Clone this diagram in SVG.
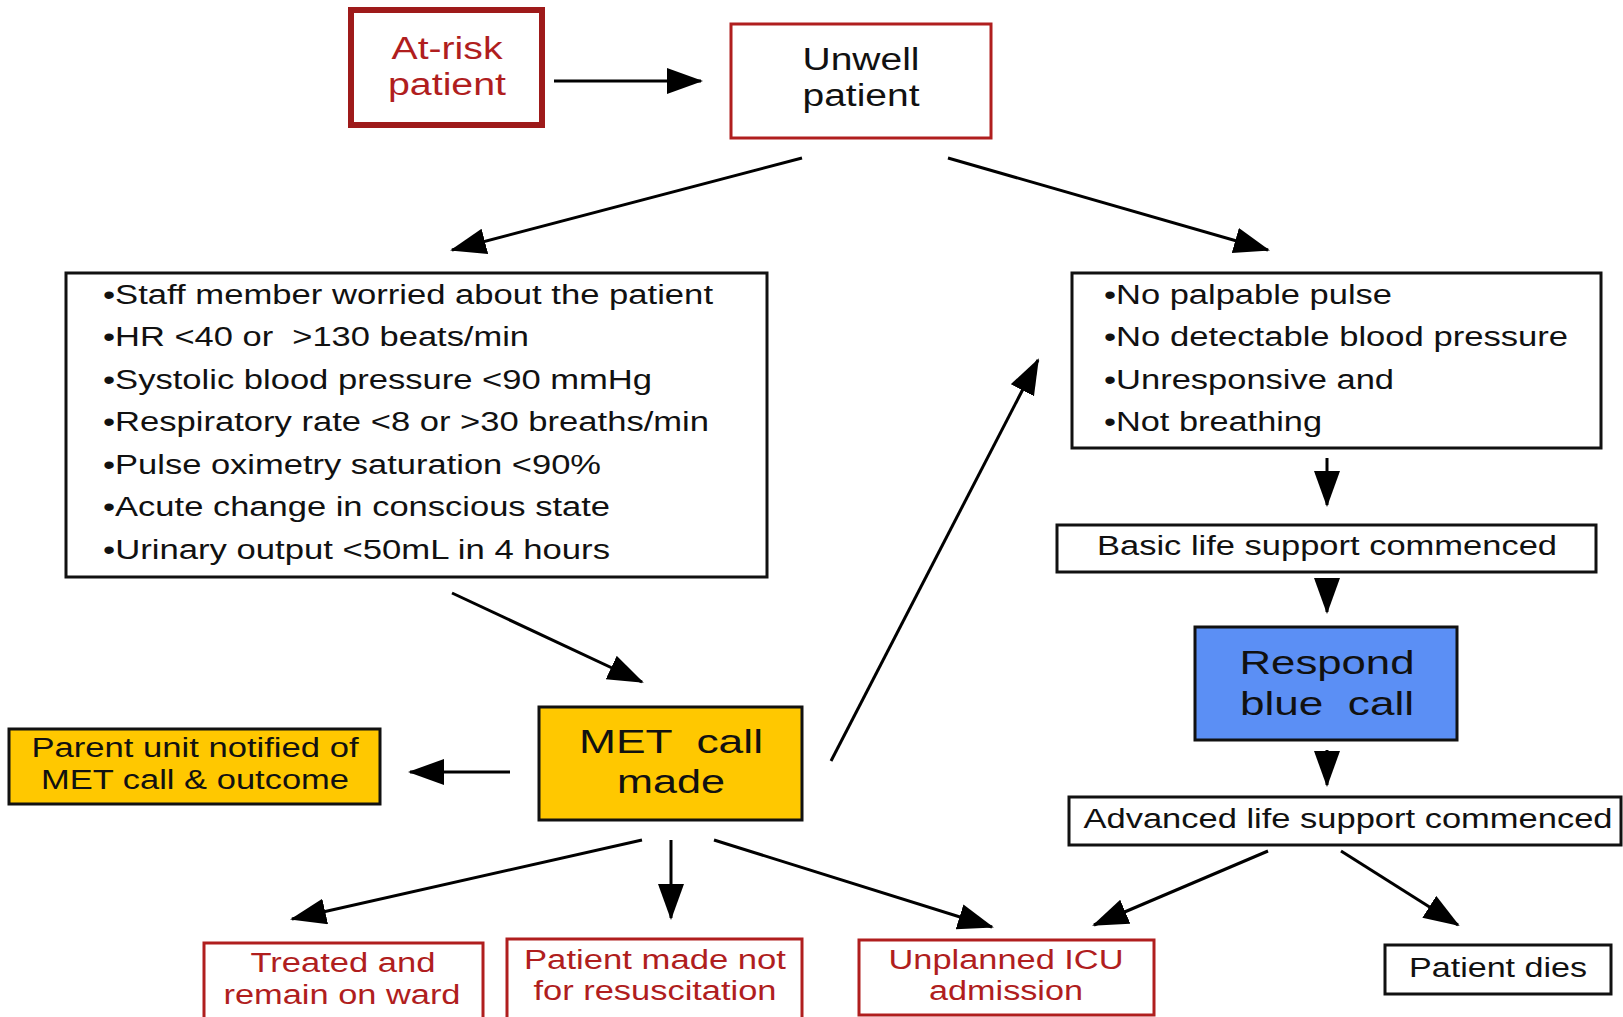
<svg xmlns="http://www.w3.org/2000/svg" width="1623" height="1017" viewBox="0 0 1623 1017">
<style>
text{font-family:"Liberation Sans",Arial,sans-serif;fill:#111;white-space:pre}
.red{fill:#b01e1e}
.big{font-size:31px}
.mid{font-size:27px}
.lg{font-size:34px}
.c{text-anchor:middle}
.box{fill:#fff;stroke:#111;stroke-width:3}
.rbox{fill:#fff;stroke:#b01e1e;stroke-width:3}
.gold{fill:#ffc800;stroke:#111;stroke-width:3}
.conn line{stroke:#000;stroke-width:3;marker-end:url(#ah)}
</style>
<defs>
<marker id="ah" markerUnits="userSpaceOnUse" markerWidth="40" markerHeight="30" refX="34" refY="13" orient="auto">
<path d="M0,0 L36,13 L0,26 Z" fill="#000"/>
</marker>
</defs>
<rect width="1623" height="1017" fill="#fff"/>

<g id="at-risk">
<rect x="351" y="10" width="191" height="115" fill="#fff" stroke="#9e1a1a" stroke-width="6"/>
<text class="red big c" x="447" y="59" textLength="111" lengthAdjust="spacingAndGlyphs">At-risk</text>
<text class="red big c" x="447" y="95" textLength="118" lengthAdjust="spacingAndGlyphs">patient</text>
</g>

<g id="unwell">
<rect x="731" y="24" width="260" height="114" class="rbox"/>
<text class="big c" x="861" y="70" textLength="117" lengthAdjust="spacingAndGlyphs">Unwell</text>
<text class="big c" x="861" y="106" textLength="117" lengthAdjust="spacingAndGlyphs">patient</text>
</g>

<g id="met-criteria">
<rect x="66" y="273" width="701" height="304" class="box"/>
<text class="mid" x="103" y="304" textLength="610" lengthAdjust="spacingAndGlyphs">•Staff member worried about the patient</text>
<text class="mid" x="103" y="346" textLength="426" lengthAdjust="spacingAndGlyphs">•HR &lt;40 or  &gt;130 beats/min</text>
<text class="mid" x="103" y="389" textLength="549" lengthAdjust="spacingAndGlyphs">•Systolic blood pressure &lt;90 mmHg</text>
<text class="mid" x="103" y="431" textLength="606" lengthAdjust="spacingAndGlyphs">•Respiratory rate &lt;8 or &gt;30 breaths/min</text>
<text class="mid" x="103" y="474" textLength="498" lengthAdjust="spacingAndGlyphs">•Pulse oximetry saturation &lt;90%</text>
<text class="mid" x="103" y="516" textLength="507" lengthAdjust="spacingAndGlyphs">•Acute change in conscious state</text>
<text class="mid" x="103" y="559" textLength="507" lengthAdjust="spacingAndGlyphs">•Urinary output &lt;50mL in 4 hours</text>
</g>

<g id="arrest-criteria">
<rect x="1072" y="273" width="529" height="175" class="box"/>
<text class="mid" x="1104" y="304" textLength="288" lengthAdjust="spacingAndGlyphs">•No palpable pulse</text>
<text class="mid" x="1104" y="346" textLength="464" lengthAdjust="spacingAndGlyphs">•No detectable blood pressure</text>
<text class="mid" x="1104" y="389" textLength="290" lengthAdjust="spacingAndGlyphs">•Unresponsive and</text>
<text class="mid" x="1104" y="431" textLength="218" lengthAdjust="spacingAndGlyphs">•Not breathing</text>
</g>

<g id="bls">
<rect x="1057" y="525" width="539" height="47" class="box"/>
<text class="mid c" x="1327" y="555" textLength="460" lengthAdjust="spacingAndGlyphs">Basic life support commenced</text>
</g>

<g id="blue-call">
<rect x="1195" y="627" width="262" height="113" fill="#5b8ff5" stroke="#111" stroke-width="3"/>
<text class="lg c" x="1327" y="674" textLength="175" lengthAdjust="spacingAndGlyphs">Respond</text>
<text class="lg c" x="1327" y="715" textLength="174" lengthAdjust="spacingAndGlyphs">blue  call</text>
</g>

<g id="als">
<rect x="1069" y="797" width="552" height="48" class="box"/>
<text class="mid c" x="1348" y="828" textLength="529" lengthAdjust="spacingAndGlyphs">Advanced life support commenced</text>
</g>

<g id="dies">
<rect x="1385" y="945" width="226" height="49" class="box"/>
<text class="mid c" x="1498" y="977" textLength="178" lengthAdjust="spacingAndGlyphs">Patient dies</text>
</g>

<g id="met-call">
<rect x="539" y="707" width="263" height="113" class="gold"/>
<text class="lg c" x="671" y="753" textLength="184" lengthAdjust="spacingAndGlyphs">MET  call</text>
<text class="lg c" x="671" y="793" textLength="108" lengthAdjust="spacingAndGlyphs">made</text>
</g>

<g id="parent-unit">
<rect x="9" y="729" width="371" height="75" class="gold"/>
<text class="mid c" x="195" y="757" textLength="327" lengthAdjust="spacingAndGlyphs">Parent unit notified of</text>
<text class="mid c" x="195" y="789" textLength="308" lengthAdjust="spacingAndGlyphs">MET call &amp; outcome</text>
</g>

<g id="treated">
<rect x="204" y="943" width="279" height="80" class="rbox"/>
<text class="red mid c" x="343" y="972" textLength="185" lengthAdjust="spacingAndGlyphs">Treated and</text>
<text class="red mid c" x="342" y="1004" textLength="237" lengthAdjust="spacingAndGlyphs">remain on ward</text>
</g>

<g id="nfr">
<rect x="507" y="939" width="295" height="80" class="rbox"/>
<text class="red mid c" x="655" y="969" textLength="262" lengthAdjust="spacingAndGlyphs">Patient made not</text>
<text class="red mid c" x="655" y="1000" textLength="243" lengthAdjust="spacingAndGlyphs">for resuscitation</text>
</g>

<g id="icu">
<rect x="859" y="940" width="295" height="75" class="rbox"/>
<text class="red mid c" x="1006" y="969" textLength="235" lengthAdjust="spacingAndGlyphs">Unplanned ICU</text>
<text class="red mid c" x="1006" y="1000" textLength="154" lengthAdjust="spacingAndGlyphs">admission</text>
</g>

<g id="connectors" class="conn">
<line x1="554" y1="81" x2="701" y2="81"/>
<line x1="802" y1="158" x2="452" y2="250"/>
<line x1="948" y1="158" x2="1268" y2="250"/>
<line x1="452" y1="593" x2="642" y2="682"/>
<line x1="831" y1="761" x2="1038" y2="360"/>
<line x1="510" y1="772" x2="410" y2="772"/>
<line x1="642" y1="840" x2="292" y2="919"/>
<line x1="671" y1="840" x2="671" y2="918"/>
<line x1="714" y1="840" x2="992" y2="927"/>
<line x1="1327" y1="458" x2="1327" y2="505"/>
<line x1="1327" y1="580" x2="1327" y2="612"/>
<line x1="1327" y1="750" x2="1327" y2="785"/>
<line x1="1268" y1="851" x2="1094" y2="925"/>
<line x1="1341" y1="851" x2="1458" y2="925"/>
</g>
</svg>
